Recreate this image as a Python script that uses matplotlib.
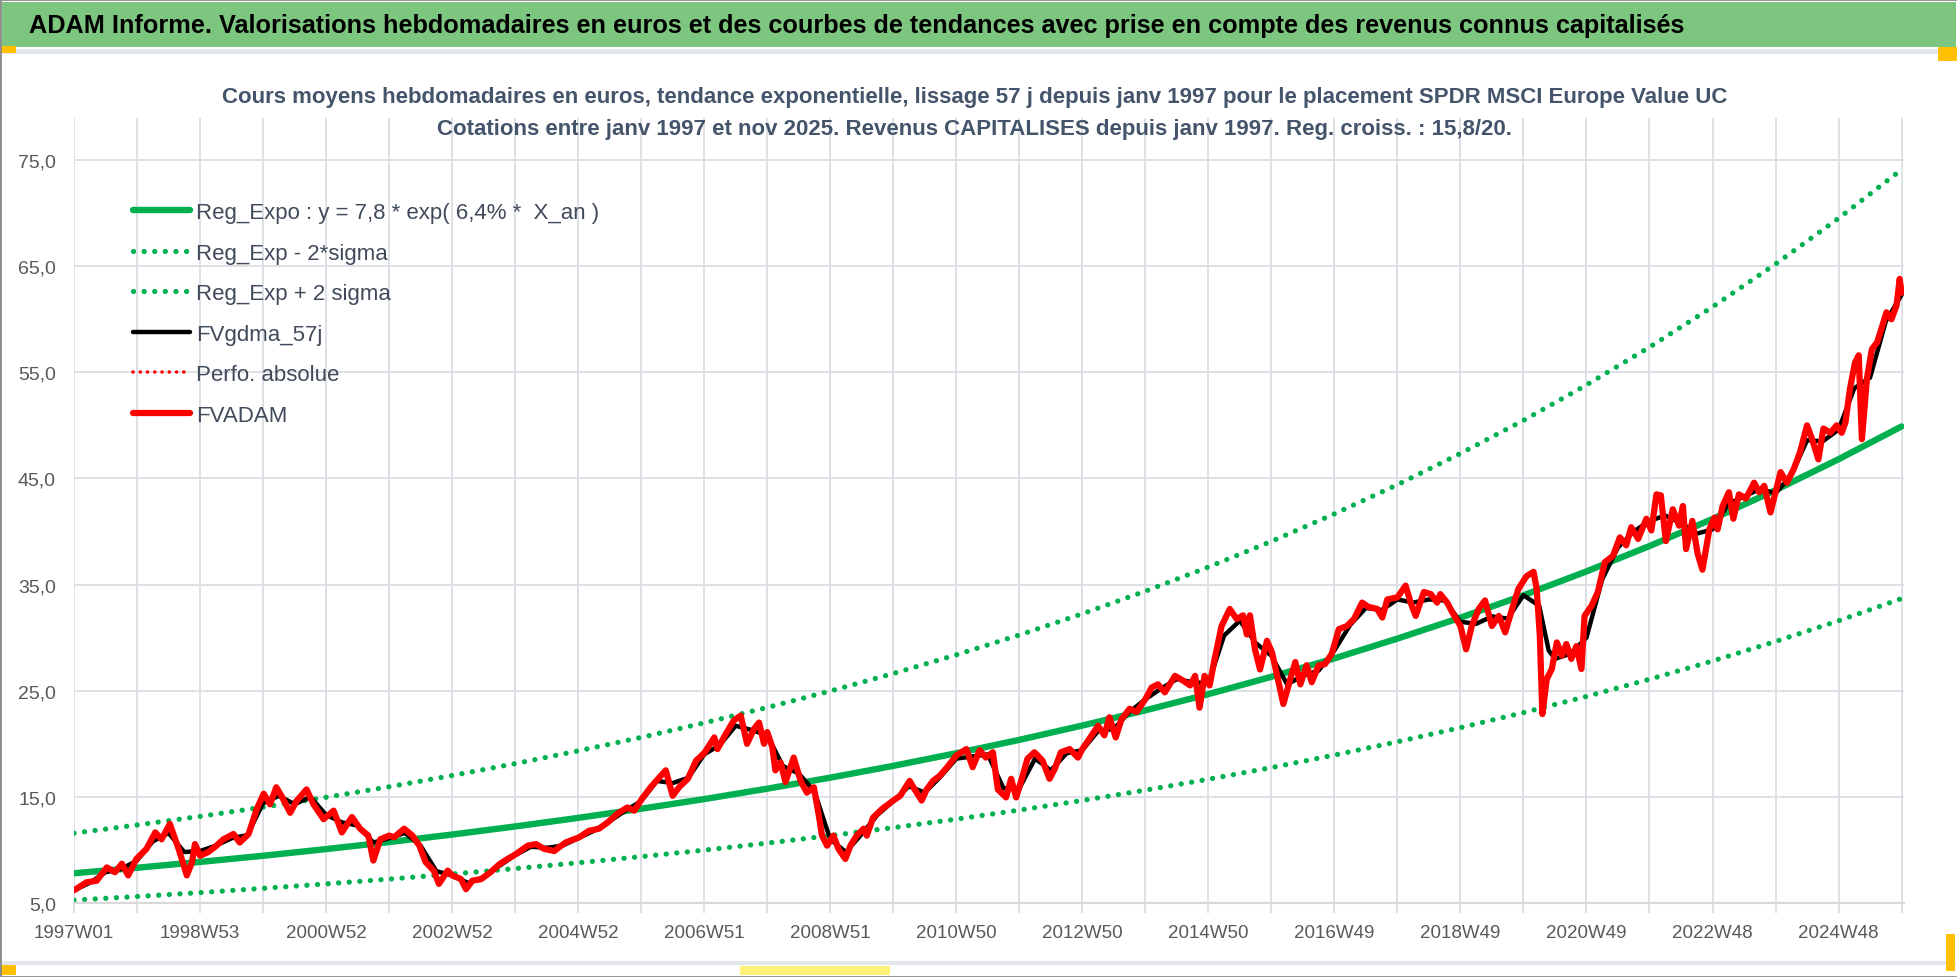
import numpy as np
import matplotlib
matplotlib.use('Agg')
import matplotlib.pyplot as plt
from matplotlib.patches import Rectangle
from matplotlib.lines import Line2D

# ---- donnees (t = annees depuis 1997W01, 52 semaines / an) ----
adam_t = [0.00, 0.20, 0.36, 0.52, 0.65, 0.76, 0.86, 0.99, 1.15, 1.29,
          1.39, 1.52, 1.66, 1.79, 1.87, 1.92, 2.00, 2.13, 2.26, 2.37,
          2.53, 2.63, 2.77, 2.90, 3.01, 3.11, 3.21, 3.30, 3.43, 3.53,
          3.69, 3.80, 3.96, 4.12, 4.25, 4.41, 4.54, 4.67, 4.75, 4.86,
          5.00, 5.08, 5.24, 5.37, 5.48, 5.58, 5.71, 5.79, 5.93, 6.00,
          6.14, 6.22, 6.32, 6.46, 6.61, 6.75, 6.88, 7.01, 7.20, 7.33,
          7.46, 7.62, 7.80, 8.02, 8.17, 8.33, 8.47, 8.62, 8.78, 8.89,
          9.01, 9.15, 9.29, 9.39, 9.50, 9.60, 9.74, 9.87, 10.01, 10.16,
          10.21, 10.34, 10.47, 10.58, 10.68, 10.79, 10.87, 10.95, 11.00, 11.08,
          11.13, 11.21, 11.29, 11.42, 11.53, 11.63, 11.74, 11.82, 11.87, 11.95,
          12.05, 12.13, 12.24, 12.32, 12.42, 12.53, 12.58, 12.68, 12.82, 13.00,
          13.11, 13.26, 13.34, 13.45, 13.53, 13.63, 13.74, 13.87, 14.00, 14.16,
          14.26, 14.37, 14.47, 14.58, 14.66, 14.79, 14.87, 14.95, 15.03, 15.13,
          15.24, 15.37, 15.48, 15.56, 15.66, 15.80, 15.93, 16.00, 16.11, 16.25,
          16.35, 16.43, 16.53, 16.62, 16.75, 16.86, 17.00, 17.10, 17.20, 17.31,
          17.47, 17.60, 17.71, 17.79, 17.86, 17.94, 18.02, 18.10, 18.21, 18.34,
          18.45, 18.55, 18.61, 18.66, 18.74, 18.82, 18.93, 19.01, 19.08, 19.19,
          19.30, 19.38, 19.46, 19.56, 19.64, 19.75, 19.85, 19.96, 20.07, 20.20,
          20.31, 20.44, 20.54, 20.68, 20.76, 20.84, 21.00, 21.13, 21.21, 21.29,
          21.42, 21.53, 21.63, 21.68, 21.79, 21.87, 22.00, 22.09, 22.18, 22.29,
          22.39, 22.50, 22.61, 22.71, 22.82, 22.92, 23.05, 23.16, 23.21, 23.26,
          23.30, 23.37, 23.45, 23.53, 23.61, 23.68, 23.76, 23.84, 23.92, 23.97,
          24.08, 24.18, 24.29, 24.42, 24.53, 24.63, 24.71, 24.82, 24.95, 25.03,
          25.11, 25.18, 25.26, 25.37, 25.47, 25.53, 25.58, 25.68, 25.76, 25.84,
          25.95, 26.03, 26.08, 26.16, 26.26, 26.33, 26.42, 26.53, 26.66, 26.74,
          26.82, 26.92, 27.00, 27.08, 27.18, 27.29, 27.39, 27.50, 27.58, 27.68,
          27.76, 27.87, 27.97, 28.05, 28.11, 28.18, 28.26, 28.32, 28.37, 28.45,
          28.53, 28.61, 28.68, 28.76, 28.84, 28.92, 28.97, 29.00]
adam_v = [6.2, 6.95, 7.1, 8.35, 7.9, 8.7, 7.6, 9.15, 10.1, 11.65,
          11.0, 12.45, 10.1, 7.6, 8.8, 10.55, 9.45, 9.8, 10.4, 11.0,
          11.5, 10.7, 11.5, 13.85, 15.3, 14.3, 15.9, 15.0, 13.5, 14.6,
          15.7, 14.3, 12.9, 13.7, 11.65, 13.1, 12.0, 11.35, 9.0, 11.0,
          11.35, 11.2, 12.0, 11.35, 10.4, 8.85, 8.05, 6.8, 8.05, 7.6,
          7.25, 6.3, 7.1, 7.25, 7.9, 8.65, 9.15, 9.6, 10.4, 10.55,
          10.1, 9.9, 10.7, 11.2, 11.8, 12.0, 12.6, 13.4, 14.0, 13.7,
          14.8, 15.9, 16.85, 17.5, 15.1, 15.9, 16.7, 18.4, 19.2, 20.6,
          19.5, 20.9, 22.2, 22.65, 20.0, 21.4, 22.0, 20.0, 21.1, 19.7,
          17.5, 18.25, 16.4, 18.7, 16.5, 15.4, 15.9, 13.2, 11.35, 10.4,
          11.35, 10.1, 9.15, 10.4, 11.35, 12.0, 11.35, 13.05, 13.85, 14.65,
          15.1, 16.5, 15.7, 14.65, 15.7, 16.5, 17.0, 17.9, 18.9, 19.5,
          17.8, 19.4, 18.7, 19.2, 15.7, 14.95, 16.7, 14.95, 16.5, 18.6,
          19.2, 18.4, 16.7, 17.6, 19.2, 19.5, 18.7, 19.5, 20.45, 21.7,
          20.8, 22.5, 20.6, 22.3, 23.3, 23.0, 24.2, 25.3, 25.6, 24.85,
          26.4, 25.95, 25.5, 26.4, 23.4, 26.4, 25.5, 28.0, 31.1, 32.7,
          31.75, 32.1, 30.3, 32.1, 28.9, 27.0, 29.7, 28.6, 26.7, 23.75,
          26.1, 27.7, 25.6, 27.4, 25.8, 27.4, 27.5, 28.5, 30.8, 31.1,
          31.75, 33.3, 32.9, 32.7, 31.9, 33.6, 33.8, 34.9, 33.3, 32.05,
          34.3, 34.1, 33.3, 34.1, 33.3, 32.4, 31.1, 28.9, 31.1, 32.7,
          33.5, 31.1, 32.05, 30.5, 32.7, 34.6, 35.8, 36.2, 34.6, 30.2,
          22.8, 26.1, 27.05, 29.55, 28.3, 29.4, 28.0, 29.2, 27.05, 32.05,
          33.0, 34.3, 37.1, 37.7, 39.45, 38.7, 40.4, 39.3, 41.2, 40.1,
          43.5, 43.4, 39.1, 42.1, 40.55, 42.4, 38.35, 41.0, 38.0, 36.4,
          40.2, 41.3, 40.2, 42.4, 43.7, 41.2, 43.5, 43.1, 44.6, 43.7,
          44.3, 41.8, 43.7, 45.6, 44.6, 45.9, 47.5, 50.0, 48.7, 46.8,
          49.7, 49.3, 50.0, 49.3, 50.3, 53.4, 55.9, 56.6, 48.7, 54.4,
          57.2, 57.8, 59.1, 60.65, 60.0, 61.3, 63.8, 62.5]

gdma_t = [0.0, 0.25, 0.5, 0.75, 1.0, 1.25, 1.5, 1.75, 2.0, 2.25,
          2.5, 2.75, 3.0, 3.25, 3.5, 3.75, 4.0, 4.25, 4.5, 4.75,
          5.0, 5.25, 5.5, 5.75, 6.0, 6.25, 6.5, 6.75, 7.0, 7.25,
          7.5, 7.75, 8.0, 8.25, 8.5, 8.75, 9.0, 9.25, 9.5, 9.75,
          10.0, 10.25, 10.5, 10.75, 11.0, 11.25, 11.5, 11.75, 12.0, 12.25,
          12.5, 12.75, 13.0, 13.25, 13.5, 13.75, 14.0, 14.25, 14.5, 14.75,
          15.0, 15.25, 15.5, 15.75, 16.0, 16.25, 16.5, 16.75, 17.0, 17.25,
          17.5, 17.75, 18.0, 18.25, 18.5, 18.75, 19.0, 19.25, 19.5, 19.75,
          20.0, 20.25, 20.5, 20.75, 21.0, 21.25, 21.5, 21.75, 22.0, 22.25,
          22.5, 22.75, 23.0, 23.25, 23.4, 23.5, 23.75, 24.0, 24.25, 24.5,
          24.75, 25.0, 25.25, 25.5, 25.75, 26.0, 26.25, 26.5, 26.75, 27.0,
          27.25, 27.5, 27.75, 28.0, 28.25, 28.5, 28.75, 29.0]
gdma_v = [6.2, 6.9, 7.9, 8.2, 9.0, 10.8, 11.6, 9.8, 9.9, 10.4,
          11.1, 11.4, 14.4, 15.1, 14.3, 15.0, 13.3, 12.6, 12.3, 10.7,
          11.1, 11.6, 10.4, 8.0, 7.6, 6.9, 7.4, 8.5, 9.5, 10.3,
          10.2, 10.4, 11.1, 11.8, 12.7, 13.7, 14.6, 16.5, 16.3, 16.8,
          19.0, 19.9, 21.7, 21.3, 20.8, 17.9, 17.2, 15.5, 11.0, 9.8,
          11.5, 13.3, 14.6, 16.0, 15.4, 16.9, 18.6, 18.8, 19.0, 15.8,
          15.8, 18.6, 17.5, 19.1, 19.4, 21.2, 21.4, 23.0, 24.2, 25.2,
          26.1, 25.8, 25.7, 30.2, 31.6, 29.5, 28.3, 25.6, 26.4, 26.9,
          28.8, 31.2, 32.8, 32.6, 33.6, 33.3, 33.6, 33.5, 31.5, 31.3,
          32.0, 31.8, 34.0, 33.0, 28.8, 28.0, 28.5, 30.0, 35.5, 38.5,
          40.0, 41.0, 41.5, 40.8, 39.8, 40.2, 42.6, 43.3, 44.0, 43.6,
          45.3, 48.6, 48.5, 49.6, 53.5, 54.5, 59.8, 62.3]

trend_t = list(range(30))
reg_expo = [7.80, 8.32, 8.87, 9.45, 10.08, 10.74, 11.45, 12.21, 13.02, 13.88,
            14.79, 15.77, 16.81, 17.92, 19.11, 20.37, 21.72, 23.15, 24.68, 26.31,
            28.05, 29.91, 31.88, 33.99, 36.24, 38.63, 41.18, 43.90, 46.81, 49.90]
reg_minus = [5.27, 5.61, 5.98, 6.38, 6.80, 7.25, 7.73, 8.24, 8.79, 9.37,
             9.98, 10.64, 11.35, 12.10, 12.90, 13.75, 14.66, 15.63, 16.66, 17.76,
             18.94, 20.19, 21.52, 22.94, 24.46, 26.08, 27.80, 29.64, 31.59, 33.68]
reg_plus = [11.58, 12.35, 13.16, 14.03, 14.96, 15.95, 17.01, 18.13, 19.33, 20.60,
            21.97, 23.42, 24.97, 26.62, 28.38, 30.25, 32.25, 34.38, 36.65, 39.07,
            41.66, 44.41, 47.35, 50.47, 53.81, 57.37, 61.16, 65.20, 69.51, 74.10]

x_labels = ['1997W01', '1998W53', '2000W52', '2002W52', '2004W52', '2006W51',
            '2008W51', '2010W50', '2012W50', '2014W50', '2016W49', '2018W49',
            '2020W49', '2022W48', '2024W48']
semaines_an = 52

titre = ("ADAM Informe. Valorisations hebdomadaires en euros et des courbes de "
         "tendances avec prise en compte des revenus connus capitalisés")
sous_titre1 = ("Cours moyens hebdomadaires en euros, tendance exponentielle, lissage 57 j "
               "depuis janv 1997 pour le placement SPDR MSCI Europe Value UC")
sous_titre2 = ("Cotations entre janv 1997 et nov 2025. Revenus CAPITALISES depuis "
               "janv 1997. Reg. croiss. : 15,8/20.")

VERT = '#00B050'
ROUGE = '#FF0000'
GRILLE = '#DDE1E6'
TEXTE = '#44546A'

plt.rcParams['font.family'] = ['Liberation Sans', 'DejaVu Sans']

W, H = 1958, 978
fig = plt.figure(figsize=(W / 100, H / 100), dpi=100)


def fx(x):
    return x / W


def fy(y):
    return 1 - y / H


def rect(x0, y0, x1, y1, color):
    fig.add_artist(Rectangle((fx(x0), fy(y1)), fx(x1) - fx(x0), fy(y0) - fy(y1),
                             transform=fig.transFigure, fc=color, ec='none'))


# cadre, bandeau vert, petites marques jaunes
rect(2, 3, 1956, 48, '#7DC67F')
rect(2, 50, 1956, 55, '#E3E6EA')
rect(2, 962, 1956, 966, '#E3E6EA')
rect(0, 47, 16, 54, '#FFC000')
rect(1938, 48, 1957, 62, '#FFC000')
rect(0, 966, 16, 976, '#FFC000')
rect(740, 967, 890, 976, '#FFF176')
rect(1946, 935, 1955, 972, '#FFC000')
fig.add_artist(Rectangle((0, 0), 1, 1, transform=fig.transFigure, fill=False,
                         ec='#8C8C8C', lw=2))

fig.text(fx(29), fy(26), titre, ha='left', va='center', fontsize=18.2,
         weight='bold', color='black')
fig.text(fx(975), fy(97), sous_titre1, ha='center', va='center', fontsize=16,
         weight='bold', color=TEXTE)
fig.text(fx(975), fy(130), sous_titre2, ha='center', va='center', fontsize=16,
         weight='bold', color=TEXTE)

# zone de trace : 5 en bas (y=904 px), le haut du cadre un peu au-dessus de 75
y_haut = 79
ax = fig.add_axes([fx(74), fy(904), fx(1904) - fx(74), fy(904 - (y_haut - 5) * 10.614) - fy(904)])

wk = lambda t: np.array(t) * semaines_an

pointille = (0, (0.01, 2.0))
l_reg, = ax.plot(wk(trend_t), reg_expo, color=VERT, lw=4.6, solid_capstyle='round',
                 label='Reg_Expo : y = 7,8 * exp( 6,4% *  X_an )')
l_min, = ax.plot(wk(trend_t), reg_minus, color=VERT, lw=3.8, linestyle=pointille,
                 dash_capstyle='round', label='Reg_Exp - 2*sigma')
l_plus, = ax.plot(wk(trend_t), reg_plus, color=VERT, lw=3.8, linestyle=pointille,
                  dash_capstyle='round', label='Reg_Exp + 2 sigma')
l_gdma, = ax.plot(wk(gdma_t), gdma_v, color='black', lw=3.2, solid_joinstyle='round',
                  solid_capstyle='round', label='FVgdma_57j')
l_perf = Line2D([], [], color=ROUGE, lw=2.6, linestyle=pointille,
                dash_capstyle='round', label='Perfo. absolue')
l_adam, = ax.plot(wk(adam_t), adam_v, color=ROUGE, lw=4.5, solid_joinstyle='round',
                  solid_capstyle='round', label='FVADAM')

ax.set_xlim(0, 1510)
ax.set_ylim(5, y_haut)
yt = np.arange(5, 76, 10)
ax.set_yticks(yt)
ax.set_yticklabels([f'{v:.1f}'.replace('.', ',') for v in yt])
xt = np.arange(0, 30) * semaines_an
ax.set_xticks(xt)
lab = []
for i in range(len(xt)):
    lab.append(x_labels[i // 2] if i % 2 == 0 and i // 2 < len(x_labels) else '')
ax.set_xticklabels(lab)

ax.set_axisbelow(True)
ax.grid(True, color=GRILLE, lw=1.4)
for s in ['top', 'right', 'left']:
    ax.spines[s].set_visible(False)
ax.spines['bottom'].set_color('#D9D9D9')
ax.spines['bottom'].set_linewidth(1.6)
ax.tick_params(axis='x', length=7, width=1.4, color=GRILLE, labelsize=13.5,
               labelcolor='#595959', pad=8)
ax.tick_params(axis='y', length=0, labelsize=14, labelcolor='#595959', pad=13)

handles = [l_reg, l_min, l_plus, l_gdma, l_perf, l_adam]
fig.legend(handles, [h.get_label() for h in handles],
           loc='upper left', bbox_to_anchor=(fx(133), fy(203)), frameon=False,
           fontsize=16, labelcolor='#404A5A', handlelength=2.55,
           handletextpad=0.3, labelspacing=0.88, borderpad=0, borderaxespad=0)

fig.savefig('out.png', dpi=100)
